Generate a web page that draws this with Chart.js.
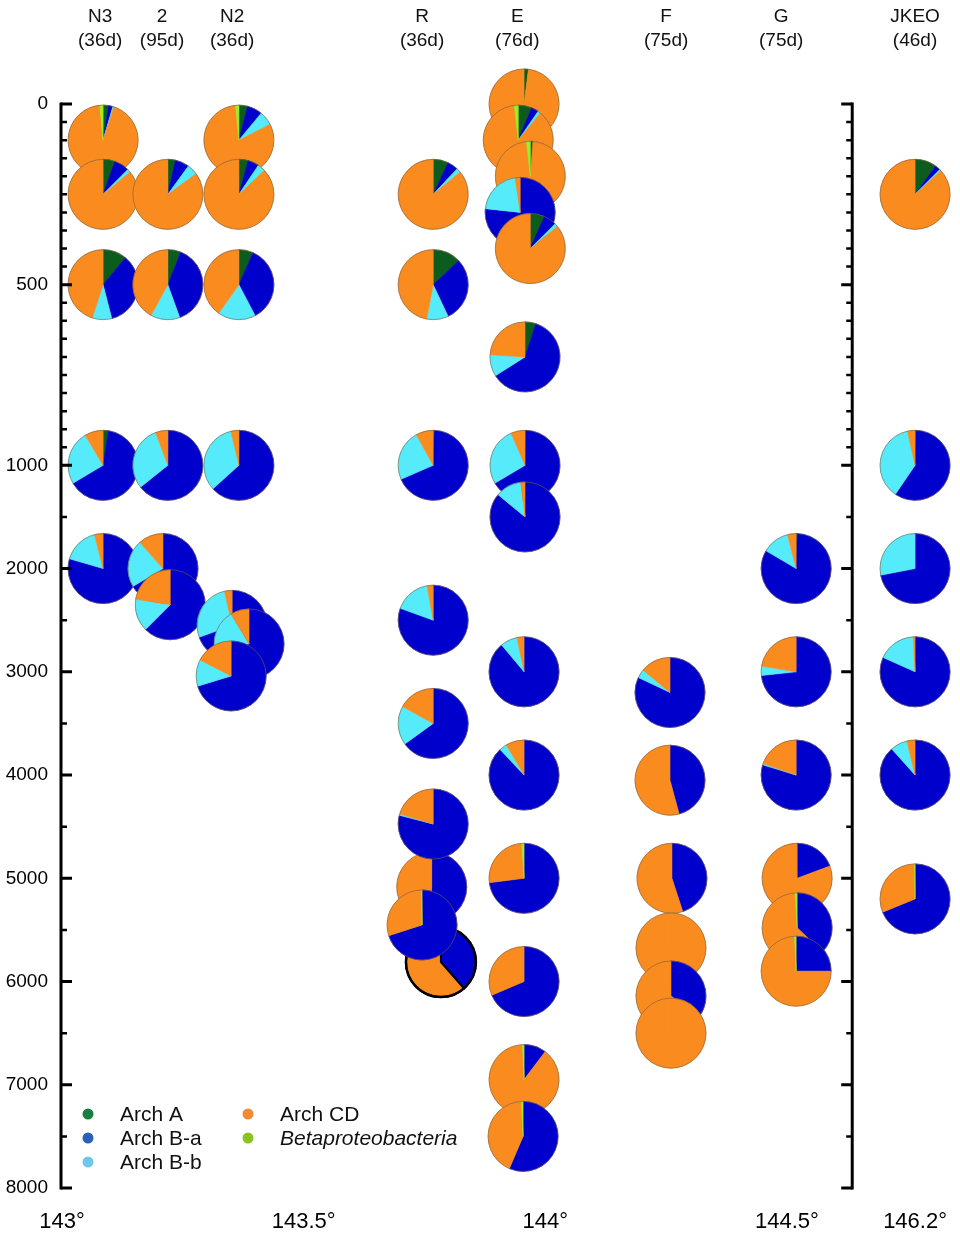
<!DOCTYPE html>
<html>
<head>
<meta charset="utf-8">
<script src="https://cdn.jsdelivr.net/npm/chart.js@4.4.0/dist/chart.umd.min.js"></script>
<style>
html, body { margin: 0; padding: 0; background: #fff; }
canvas { display: block; }
</style>
</head>
<body>
<canvas id="grafico" width="960" height="1244"></canvas>
<script>
// Grupos (orden de los sectores, en sentido horario desde arriba)
const groupNames = ['Arch A', 'Arch B-a', 'Arch B-b', 'Arch CD', 'Betaproteobacteria'];

// Estaciones (cabecera)
const headerNames = ['N3', '2', 'N2', 'R', 'E', 'F', 'G', 'JKEO'];
const headerDays = ['(36d)', '(95d)', '(36d)', '(36d)', '(76d)', '(75d)', '(75d)', '(46d)'];
const headerLon = [143.079, 143.207, 143.352, 143.745, 143.942, 144.250, 144.488, 146.2];

// Ticks
const depthTicks = [0, 500, 1000, 2000, 3000, 4000, 5000, 6000, 7000, 8000];
const lonTicks = [143, 143.5, 144, 144.5, 146.2];

// Muestras (en orden de dibujo) - % de cada grupo
const pieStation = ['N3','N3','N3','N3','N3',
  '2','2','2','2','2',
  'N2','N2','N2','N2','N2','N2','N2',
  'R','R','R','R','R','R','R','R','R',
  'E','E','E','E','E','E','E','E','E','E','E','E','E','E',
  'F','F','F','F','F','F',
  'G','G','G','G','G','G',
  'JKEO','JKEO','JKEO','JKEO','JKEO','JKEO'];
const pieLon = [143.085, 143.085, 143.085, 143.085, 143.085,
  143.219, 143.219, 143.219, 143.209, 143.224,
  143.366, 143.366, 143.366, 143.366, 143.352, 143.387, 143.350,
  143.768, 143.768, 143.768, 143.768, 143.768, 143.765, 143.768, 143.784, 143.745,
  143.956, 143.944, 143.969, 143.948, 143.969, 143.958, 143.958, 143.958, 143.956, 143.956, 143.956, 143.956, 143.956, 143.954,
  144.258, 144.258, 144.262, 144.260, 144.260, 144.260,
  144.519, 144.519, 144.519, 144.521, 144.521, 144.519,
  146.2, 146.2, 146.2, 146.2, 146.2, 146.2];
const pieDepth = [100, 250, 500, 1000, 2000,
  250, 500, 1000, 2000, 2350,
  100, 250, 500, 1000, 2550, 2730, 3040,
  250, 500, 1000, 2500, 3500, 5084, 4474, 5811, 5452,
  0, 100, 200, 300, 400, 700, 1000, 1500, 3000, 4000, 5000, 6000, 6950, 7500,
  3200, 4050, 5000, 5675, 6140, 6500,
  2000, 3000, 4000, 5000, 5480, 5900,
  250, 1000, 2000, 3000, 4000, 5200];
const archA = [2.5, 5.5, 11, 2.5, 0,
  3.5, 6, 0.3, 0, 0,
  4, 4.3, 6.6, 0.3, 0, 0, 0,
  7, 13, 0.5, 0, 0, 0, 0, 0, 0,
  2, 6.3, 1.2, 0, 6.7, 5, 0.5, 0, 0, 0, 0, 0, 0, 0,
  0, 0, 0, 0, 0, 0,
  0.5, 0, 0, 0, 0, 0,
  10, 0.5, 0, 0, 0, 0.3];
const archBa = [2, 7, 35, 64, 79.5,
  6.5, 38.5, 64, 66.5, 62.5,
  7, 5.1, 35.7, 63, 69.5, 72.8, 70.3,
  5, 30, 68, 80.5, 65, 51, 79, 38.6, 70,
  0, 3.3, 0, 76.7, 5.8, 61, 66, 86, 88.9, 88, 73, 68.6, 10.3, 56.4,
  82, 45.8, 45, 0, 35, 0,
  83, 73.3, 79.7, 19.3, 37, 25,
  2.5, 59, 72, 81.7, 88.4, 68.5];
const archBb = [0.5, 1.5, 9, 25, 16.5,
  5, 13.5, 30, 22, 15,
  6.5, 3.6, 17.5, 33, 27, 18.6, 12.2,
  2, 10, 23.5, 16.7, 18, 0, 0.6, 0, 0,
  0, 1.3, 0, 21, 1.6, 10, 27, 12, 7.8, 3.5, 0, 0, 0, 0,
  4, 0, 0, 0, 0, 0,
  12.5, 4.3, 0.6, 0, 0, 0,
  0.7, 37, 28, 17.5, 7.8, 0];
const archCD = [93.5, 86, 45, 8.5, 4,
  85, 42, 5.7, 11.5, 22.5,
  81, 87, 40.2, 3.7, 3.5, 8.6, 17.5,
  86, 47, 8, 2.8, 17, 49, 20.4, 61.4, 29.7,
  98, 87.3, 97, 2.3, 85.9, 24, 6.5, 2, 3.3, 8.5, 26, 31.4, 89, 42.8,
  14, 54.2, 55, 100, 65, 100,
  4, 22.4, 19.7, 80.7, 62, 74.2,
  86.8, 3.5, 0, 0.8, 3.8, 31];
const betaProt = [1.5, 0, 0, 0, 0,
  0, 0, 0, 0, 0,
  1.5, 0, 0, 0, 0, 0, 0,
  0, 0, 0, 0, 0, 0, 0, 0, 0.3,
  0, 1.8, 1.8, 0, 0, 0, 0, 0, 0, 0, 1, 0, 0.7, 0.8,
  0, 0, 0, 0, 0, 0,
  0, 0, 0, 0, 1, 0.8,
  0, 0, 0, 0, 0, 0.2];

// Estilos
const pieColors = ['#0b5c1d', '#0000cc', '#55ebfa', '#f98b1f', '#9bef2a'];
const legendColors = ['#17803f', '#2b5fbc', '#6ec8ec', '#f08a32', '#8ac21f'];
const PIE_R = 35;
const OUTLINED = 24;           // muestra con borde negro
const BREAK_LON = 144.635;     // eje derecho
const JKEO_POS = 144.765;      // donde se dibuja 146.2
const FONT = '"Liberation Sans", Arial, sans-serif';

// Eje de profundidad partido: 0-1000 m ampliado
function warpDepth(d) {
    return d <= 1000 ? d * 3.5 : 3500 + (d - 1000);
}
function warpLon(lon) {
    return lon > 145 ? lon - 146.2 + JKEO_POS : lon;
}

const puntos = pieLon.map((lon, i) => ({ x: warpLon(lon), y: warpDepth(pieDepth[i]) }));

function dibujarPie(ctx, cx, cy, i) {
    const partes = [archA[i], archBa[i], archBb[i], archCD[i], betaProt[i]];
    const total = partes.reduce((a, b) => a + b, 0);
    const negro = (i === OUTLINED);
    let a0 = -Math.PI / 2;
    partes.forEach((v, k) => {
        if (!v) return;
        const a1 = a0 + v / total * Math.PI * 2;
        ctx.beginPath();
        ctx.moveTo(cx, cy);
        ctx.arc(cx, cy, PIE_R, a0, a1);
        ctx.closePath();
        ctx.fillStyle = pieColors[k];
        ctx.fill();
        ctx.strokeStyle = negro ? '#000' : pieColors[k];
        ctx.lineWidth = negro ? 2 : 0.6;
        ctx.stroke();
        a0 = a1;
    });
    ctx.beginPath();
    ctx.arc(cx, cy, PIE_R, 0, Math.PI * 2);
    ctx.strokeStyle = negro ? '#000' : 'rgba(120,95,70,0.6)';
    ctx.lineWidth = negro ? 2.5 : 1;
    ctx.stroke();
}

const piePlugin = {
    id: 'pies',
    afterDatasetsDraw(chart) {
        const ctx = chart.ctx;
        ctx.save();
        chart.getDatasetMeta(0).data.forEach((pt, i) => dibujarPie(ctx, pt.x, pt.y, i));
        ctx.restore();
    },
    afterDraw(chart) {
        const ctx = chart.ctx;
        const xs = chart.scales.x, ys = chart.scales.y;
        const top = ys.getPixelForValue(0), bottom = ys.getPixelForValue(warpDepth(8000));
        const xl = chart.chartArea.left - 1;
        const xr = xs.getPixelForValue(BREAK_LON);
        ctx.save();
        ctx.strokeStyle = '#000';
        ctx.lineWidth = 3;
        ctx.lineCap = 'butt';
        // ejes verticales
        [xl, xr].forEach(x => {
            ctx.beginPath();
            ctx.moveTo(x, top - 1.5);
            ctx.lineTo(x, bottom + 1.5);
            ctx.stroke();
        });
        // ticks mayores y menores
        const menores = [];
        for (let d = 50; d < 1000; d += 50) if (d !== 500) menores.push(d);
        for (let d = 1500; d < 8000; d += 1000) menores.push(d);
        const tick = (d, len) => {
            const y = ys.getPixelForValue(warpDepth(d));
            ctx.beginPath();
            ctx.moveTo(xl, y); ctx.lineTo(xl + len, y);
            ctx.moveTo(xr, y); ctx.lineTo(xr - len, y);
            ctx.stroke();
        };
        depthTicks.forEach(d => tick(d, 11));
        ctx.lineWidth = 2.5;
        menores.forEach(d => tick(d, 6));

        // cabeceras
        ctx.fillStyle = '#111';
        ctx.font = '19px ' + FONT;
        ctx.textAlign = 'center';
        ctx.textBaseline = 'middle';
        headerNames.forEach((n, i) => {
            const x = xs.getPixelForValue(warpLon(headerLon[i]));
            ctx.fillText(n, x, 17);
            ctx.fillText(headerDays[i], x, 41);
        });

        // leyenda
        const filas = [[88, 1114], [88, 1138], [88, 1162], [248, 1114], [248, 1138]];
        ctx.textAlign = 'left';
        groupNames.forEach((n, k) => {
            const [mx, my] = filas[k];
            ctx.beginPath();
            ctx.arc(mx, my, 5.5, 0, Math.PI * 2);
            ctx.fillStyle = legendColors[k];
            ctx.fill();
            ctx.fillStyle = '#111';
            ctx.font = (k === 4 ? 'italic ' : '') + '21px ' + FONT;
            ctx.fillText(n, mx + 32, my + 1);
        });
        ctx.restore();
    }
};

const ctx = document.getElementById('grafico').getContext('2d');
const chart = new Chart(ctx, {
    type: 'scatter',
    data: {
        datasets: [{
            label: 'muestras',
            data: puntos,
            pointRadius: 0,
            pointHoverRadius: 0
        }]
    },
    options: {
        responsive: false,
        animation: false,
        events: [],
        layout: { padding: { top: 104, right: 0, left: 0, bottom: 0 } },
        plugins: {
            legend: { display: false },
            tooltip: { enabled: false }
        },
        scales: {
            x: {
                type: 'linear',
                min: 143,
                max: 144.858,
                afterFit(s) { s.height = 56; s.paddingLeft = 0; s.paddingRight = 0; },
                afterBuildTicks(s) { s.ticks = lonTicks.map(v => ({ value: warpLon(v) })); },
                ticks: {
                    autoSkip: false,
                    maxRotation: 0,
                    padding: 21,
                    color: '#000',
                    font: { family: '"Liberation Sans Narrow", "Liberation Sans", Arial', size: 22 },
                    callback: (v, i) => lonTicks[i] + '°'
                },
                grid: { display: false, drawTicks: false },
                border: { display: false }
            },
            y: {
                type: 'linear',
                min: 0,
                max: warpDepth(8000),
                reverse: true,
                afterFit(s) { s.width = 62; s.paddingTop = 0; s.paddingBottom = 0; },
                afterBuildTicks(s) { s.ticks = depthTicks.map(d => ({ value: warpDepth(d) })); },
                ticks: {
                    autoSkip: false,
                    padding: 14,
                    color: '#000',
                    font: { family: '"Liberation Sans", Arial', size: 19 },
                    callback: (v, i) => String(depthTicks[i])
                },
                grid: { display: false, drawTicks: false },
                border: { display: false }
            }
        }
    },
    plugins: [piePlugin]
});
</script>
</body>
</html>
